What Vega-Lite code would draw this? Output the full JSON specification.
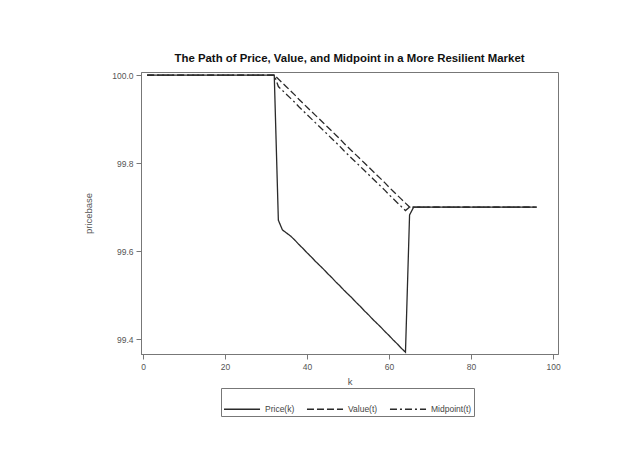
{
  "$schema": "https://vega.github.io/schema/vega-lite/v6.json",
  "autosize": "none",
  "padding": {"left": 141, "top": 72, "right": 63, "bottom": 109},
  "width": 417,
  "height": 282,
  "background": "white",
  "title": {
    "text": "The Path of Price, Value, and Midpoint in a More Resilient Market",
    "font": "Liberation Sans",
    "fontSize": 11.4,
    "fontWeight": "bold",
    "color": "#111",
    "anchor": "middle",
    "offset": 7
  },
  "data": {
    "values": [
      {"k": 1, "Price(k)": 100.0, "Value(t)": 100.0, "Midpoint(t)": 100.0},
      {"k": 32, "Price(k)": 100.0, "Value(t)": 100.0, "Midpoint(t)": 100.0},
      {"k": 33, "Price(k)": 99.67, "Value(t)": 99.991, "Midpoint(t)": 99.974},
      {"k": 34, "Price(k)": 99.648, "Value(t)": 99.982, "Midpoint(t)": 99.965},
      {"k": 35, "Price(k)": 99.641, "Value(t)": 99.973, "Midpoint(t)": 99.956},
      {"k": 36, "Price(k)": 99.634, "Value(t)": 99.964, "Midpoint(t)": 99.947},
      {"k": 37, "Price(k)": 99.625, "Value(t)": 99.955, "Midpoint(t)": 99.938},
      {"k": 38, "Price(k)": 99.615, "Value(t)": 99.945, "Midpoint(t)": 99.928},
      {"k": 39, "Price(k)": 99.606, "Value(t)": 99.936, "Midpoint(t)": 99.919},
      {"k": 40, "Price(k)": 99.596, "Value(t)": 99.927, "Midpoint(t)": 99.91},
      {"k": 41, "Price(k)": 99.587, "Value(t)": 99.918, "Midpoint(t)": 99.901},
      {"k": 42, "Price(k)": 99.577, "Value(t)": 99.909, "Midpoint(t)": 99.892},
      {"k": 43, "Price(k)": 99.568, "Value(t)": 99.9, "Midpoint(t)": 99.883},
      {"k": 44, "Price(k)": 99.559, "Value(t)": 99.891, "Midpoint(t)": 99.874},
      {"k": 45, "Price(k)": 99.549, "Value(t)": 99.882, "Midpoint(t)": 99.865},
      {"k": 46, "Price(k)": 99.54, "Value(t)": 99.873, "Midpoint(t)": 99.856},
      {"k": 47, "Price(k)": 99.53, "Value(t)": 99.864, "Midpoint(t)": 99.847},
      {"k": 48, "Price(k)": 99.521, "Value(t)": 99.855, "Midpoint(t)": 99.838},
      {"k": 49, "Price(k)": 99.511, "Value(t)": 99.845, "Midpoint(t)": 99.828},
      {"k": 50, "Price(k)": 99.502, "Value(t)": 99.836, "Midpoint(t)": 99.819},
      {"k": 51, "Price(k)": 99.493, "Value(t)": 99.827, "Midpoint(t)": 99.81},
      {"k": 52, "Price(k)": 99.483, "Value(t)": 99.818, "Midpoint(t)": 99.801},
      {"k": 53, "Price(k)": 99.474, "Value(t)": 99.809, "Midpoint(t)": 99.792},
      {"k": 54, "Price(k)": 99.464, "Value(t)": 99.8, "Midpoint(t)": 99.783},
      {"k": 55, "Price(k)": 99.455, "Value(t)": 99.791, "Midpoint(t)": 99.774},
      {"k": 56, "Price(k)": 99.445, "Value(t)": 99.782, "Midpoint(t)": 99.765},
      {"k": 57, "Price(k)": 99.436, "Value(t)": 99.773, "Midpoint(t)": 99.756},
      {"k": 58, "Price(k)": 99.427, "Value(t)": 99.764, "Midpoint(t)": 99.747},
      {"k": 59, "Price(k)": 99.417, "Value(t)": 99.755, "Midpoint(t)": 99.738},
      {"k": 60, "Price(k)": 99.408, "Value(t)": 99.745, "Midpoint(t)": 99.728},
      {"k": 61, "Price(k)": 99.398, "Value(t)": 99.736, "Midpoint(t)": 99.719},
      {"k": 62, "Price(k)": 99.389, "Value(t)": 99.727, "Midpoint(t)": 99.71},
      {"k": 63, "Price(k)": 99.379, "Value(t)": 99.718, "Midpoint(t)": 99.701},
      {"k": 64, "Price(k)": 99.37, "Value(t)": 99.709, "Midpoint(t)": 99.692},
      {"k": 65, "Price(k)": 99.682, "Value(t)": 99.7, "Midpoint(t)": 99.7},
      {"k": 66, "Price(k)": 99.7, "Value(t)": 99.7, "Midpoint(t)": 99.7},
      {"k": 96, "Price(k)": 99.7, "Value(t)": 99.7, "Midpoint(t)": 99.7}
    ]
  },
  "transform": [
    {"fold": ["Price(k)", "Value(t)", "Midpoint(t)"], "as": ["series", "pricebase"]}
  ],
  "mark": {"type": "line", "color": "#2a2a2a", "strokeWidth": 1.3, "clip": true},
  "encoding": {
    "x": {
      "field": "k",
      "type": "quantitative",
      "title": "k",
      "scale": {"domain": [-0.5, 101.2], "nice": false, "zero": false},
      "axis": {"values": [0, 20, 40, 60, 80, 100], "format": "d", "grid": false, "titlePadding": 6}
    },
    "y": {
      "field": "pricebase",
      "type": "quantitative",
      "title": "pricebase",
      "scale": {"domain": [99.366, 100.007], "nice": false, "zero": false},
      "axis": {"values": [99.4, 99.6, 99.8, 100.0], "format": ".1f", "grid": false, "titlePadding": 18}
    },
    "strokeDash": {
      "field": "series",
      "type": "nominal",
      "scale": {
        "domain": ["Price(k)", "Value(t)", "Midpoint(t)"],
        "range": [[1, 0], [7, 3], [7, 3, 2, 3]]
      },
      "legend": {
        "title": null,
        "orient": "none",
        "legendX": 80,
        "legendY": 316,
        "direction": "horizontal",
        "columns": 3,
        "symbolType": "stroke",
        "symbolSize": 1300,
        "symbolStrokeWidth": 1.5,
        "symbolStrokeColor": "#2a2a2a",
        "strokeColor": "#777",
        "padding": 2,
        "columnPadding": 8,
        "labelFont": "Liberation Sans",
        "labelFontSize": 8.5,
        "labelColor": "#444"
      }
    }
  },
  "config": {
    "view": {"stroke": "#777", "strokeWidth": 1},
    "axis": {
      "labelFont": "Liberation Sans",
      "labelFontSize": 8.5,
      "labelColor": "#555",
      "titleFont": "Liberation Sans",
      "titleFontSize": 9.5,
      "titleFontWeight": "normal",
      "titleColor": "#555",
      "domainColor": "#777",
      "tickColor": "#777",
      "tickSize": 5,
      "labelPadding": 3
    }
  }
}
